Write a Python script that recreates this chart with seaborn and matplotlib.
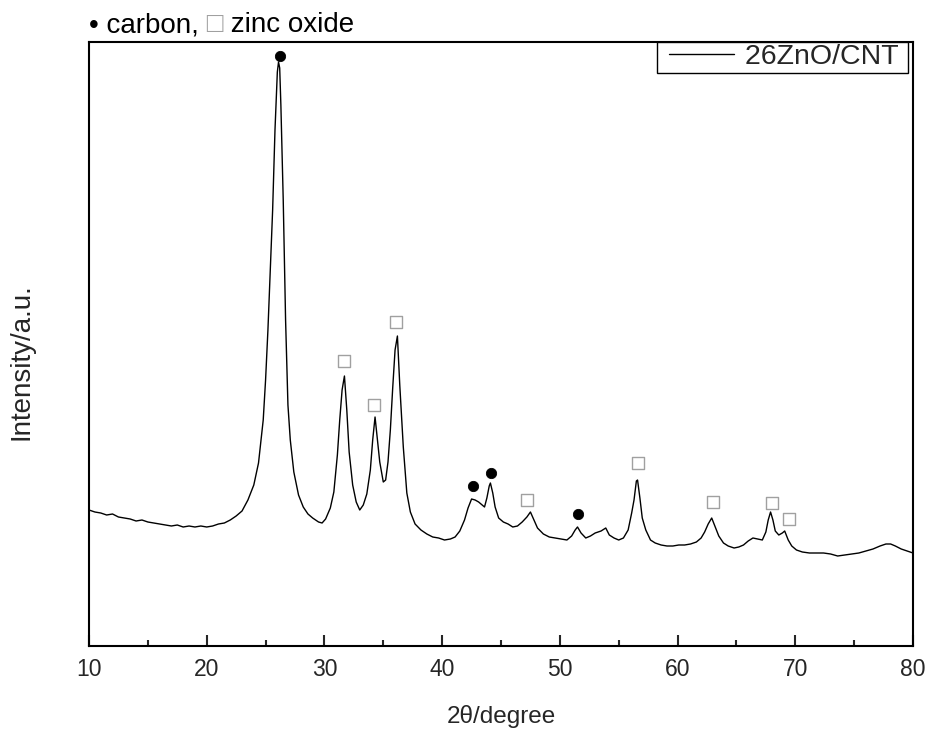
import numpy as np
import pandas as pd
import matplotlib
matplotlib.use("Agg")
import matplotlib.pyplot as plt
from matplotlib.lines import Line2D
from matplotlib.legend_handler import HandlerLine2D
import seaborn as sns

# XRD pattern (2theta in degree, intensity in a.u.)
two_theta = [10.0, 10.5, 11.0, 11.5, 12.0, 12.5, 13.0, 13.5, 14.0, 14.5,
             15.0, 15.5, 16.0, 16.5, 17.0, 17.5, 18.0, 18.5, 19.0, 19.5,
             20.0, 20.5, 21.0, 21.5, 22.0, 22.5, 23.0, 23.5, 24.0, 24.4,
             24.8, 25.0, 25.2, 25.4, 25.6, 25.8, 26.0, 26.1, 26.2, 26.3,
             26.5, 26.7, 26.9, 27.1, 27.4, 27.8, 28.2, 28.6, 29.0, 29.5,
             29.8, 30.1, 30.5, 30.8, 31.1, 31.3, 31.5, 31.7, 31.9, 32.1,
             32.4, 32.7, 33.0, 33.3, 33.6, 33.9, 34.1, 34.3, 34.5, 34.7,
             35.0, 35.2, 35.4, 35.6, 35.8, 36.0, 36.2, 36.4, 36.7, 37.0,
             37.3, 37.7, 38.2, 38.7, 39.2, 39.7, 40.2, 40.7, 41.1, 41.5,
             41.9, 42.2, 42.5, 42.8, 43.1, 43.4, 43.6, 43.8, 44.0, 44.1,
             44.3, 44.5, 44.8, 45.2, 45.6, 46.0, 46.4, 46.8, 47.2, 47.5,
             47.8, 48.1, 48.6, 49.1, 49.6, 50.1, 50.6, 51.0, 51.3, 51.5,
             51.8, 52.2, 52.6, 53.0, 53.5, 53.9, 54.2, 54.6, 55.0, 55.4,
             55.8, 56.1, 56.3, 56.5, 56.6, 56.8, 57.0, 57.3, 57.7, 58.1,
             58.6, 59.1, 59.6, 60.1, 60.6, 61.1, 61.6, 62.0, 62.3, 62.6,
             62.9, 63.2, 63.5, 63.9, 64.3, 64.8, 65.2, 65.6, 66.0, 66.4,
             66.8, 67.2, 67.5, 67.7, 67.9, 68.1, 68.3, 68.6, 68.9, 69.1,
             69.4, 69.7, 70.1, 70.6, 71.2, 71.8, 72.4, 73.0, 73.6, 74.2,
             74.8, 75.4, 76.0, 76.6, 77.2, 77.7, 78.1, 78.5, 79.0, 79.5,
             80.0]
intensity = [136, 134, 133, 131, 132, 129, 128, 127, 125, 126,
             124, 123, 122, 121, 120, 121, 119, 120, 119, 120,
             119, 120, 122, 123, 126, 130, 135, 146, 161, 183,
             226, 266, 316, 376, 436, 516, 574, 584, 578, 541,
             446, 326, 241, 206, 174, 151, 139, 132, 128, 124,
             123, 127, 138, 154, 191, 226, 256, 270, 236, 194,
             161, 144, 136, 141, 152, 176, 206, 229, 206, 184,
             164, 166, 184, 216, 258, 296, 310, 261, 199, 153,
             134, 122, 116, 112, 109, 108, 106, 107, 109, 115,
             126, 138, 147, 146, 144, 141, 139, 148, 160, 163,
             153, 139, 128, 124, 122, 119, 120, 124, 129, 134,
             126, 118, 112, 109, 108, 107, 106, 110, 116, 119,
             113, 108, 110, 113, 115, 118, 111, 108, 106, 108,
             116, 133, 146, 165, 166, 148, 128, 116, 106, 103,
             101, 100, 100, 101, 101, 102, 104, 108, 114, 122,
             128, 119, 110, 103, 100, 98, 99, 101, 105, 108,
             107, 106, 114, 126, 134, 126, 115, 111, 113, 115,
             106, 100, 96, 94, 93, 93, 93, 92, 90, 91,
             92, 93, 95, 97, 100, 102, 102, 100, 97, 95,
             93]

# peak labels
carbon_x = [26.25, 42.66, 44.19, 51.51]
carbon_y = [590, 160, 173, 132]
zno_x = [31.69, 34.24, 36.11, 47.25, 56.6, 62.99, 68.0, 69.45]
zno_y = [285, 241, 324, 146, 183, 144, 143, 127]

df = pd.DataFrame({"two_theta": two_theta, "intensity": intensity})

sns.set_style("ticks")
plt.rcParams["font.family"] = ["Liberation Sans", "DejaVu Sans"]
fs_tick = 16.5
fs_big = 20

fig = plt.figure(figsize=(9.29, 7.33), dpi=100)
ax = fig.add_axes([89/929, 1-646/733, 824/929, 604/733])

sns.lineplot(data=df, x="two_theta", y="intensity", ax=ax, color="black",
             linewidth=1.0, label="26ZnO/CNT ")
sns.scatterplot(x=carbon_x, y=carbon_y, ax=ax, marker="o", s=55,
                color="black", edgecolor="black", legend=False)
sns.scatterplot(x=zno_x, y=zno_y, ax=ax, marker="s", s=80,
                facecolor="white", edgecolor="#a0a0a0", linewidth=1.0,
                legend=False)

ax.set_xlim(10, 80)
ax.set_ylim(0, 604)
ax.set_xticks(np.arange(10, 81, 10))
ax.set_xticks(np.arange(15, 80, 10), minor=True)
ax.set_yticks([])
ax.tick_params(axis="x", which="major", direction="in", length=8, width=1.5,
               labelsize=fs_tick, pad=9)
ax.tick_params(axis="x", which="minor", direction="in", length=4, width=1.5)
for sp in ax.spines.values():
    sp.set_visible(True)
    sp.set_linewidth(1.5)
    sp.set_color("black")

ax.set_xlabel("2θ/degree", fontsize=17.5, labelpad=17)
ax.set_ylabel("Intensity/a.u.", fontsize=fs_big)
ax.yaxis.set_label_coords(-0.066, 0.47)

leg = ax.legend(loc="upper right", bbox_to_anchor=(0.9939, 1.0),
                borderaxespad=0, fontsize=20.5, fancybox=False,
                edgecolor="black", framealpha=1, handlelength=2.6,
                handletextpad=0.39, borderpad=0.08,
                handler_map={Line2D: HandlerLine2D(xpad=0.32)})
leg.get_frame().set_linewidth(1.0)

# header line: "• carbon, □ zinc oxide"
t1 = fig.text(89/929, 1-32/733, "• carbon,", fontsize=fs_big, color="black",
              va="baseline", ha="left")
a2 = ax.annotate(" □", xy=(1, 0), xycoords=t1, va="bottom", ha="left",
                 fontsize=fs_big, color="#a0a0a0", annotation_clip=False)
ax.annotate(" zinc oxide", xy=(1, 0), xycoords=a2, va="bottom", ha="left",
            fontsize=fs_big, color="black", annotation_clip=False)

fig.savefig("out.png", dpi=100)
